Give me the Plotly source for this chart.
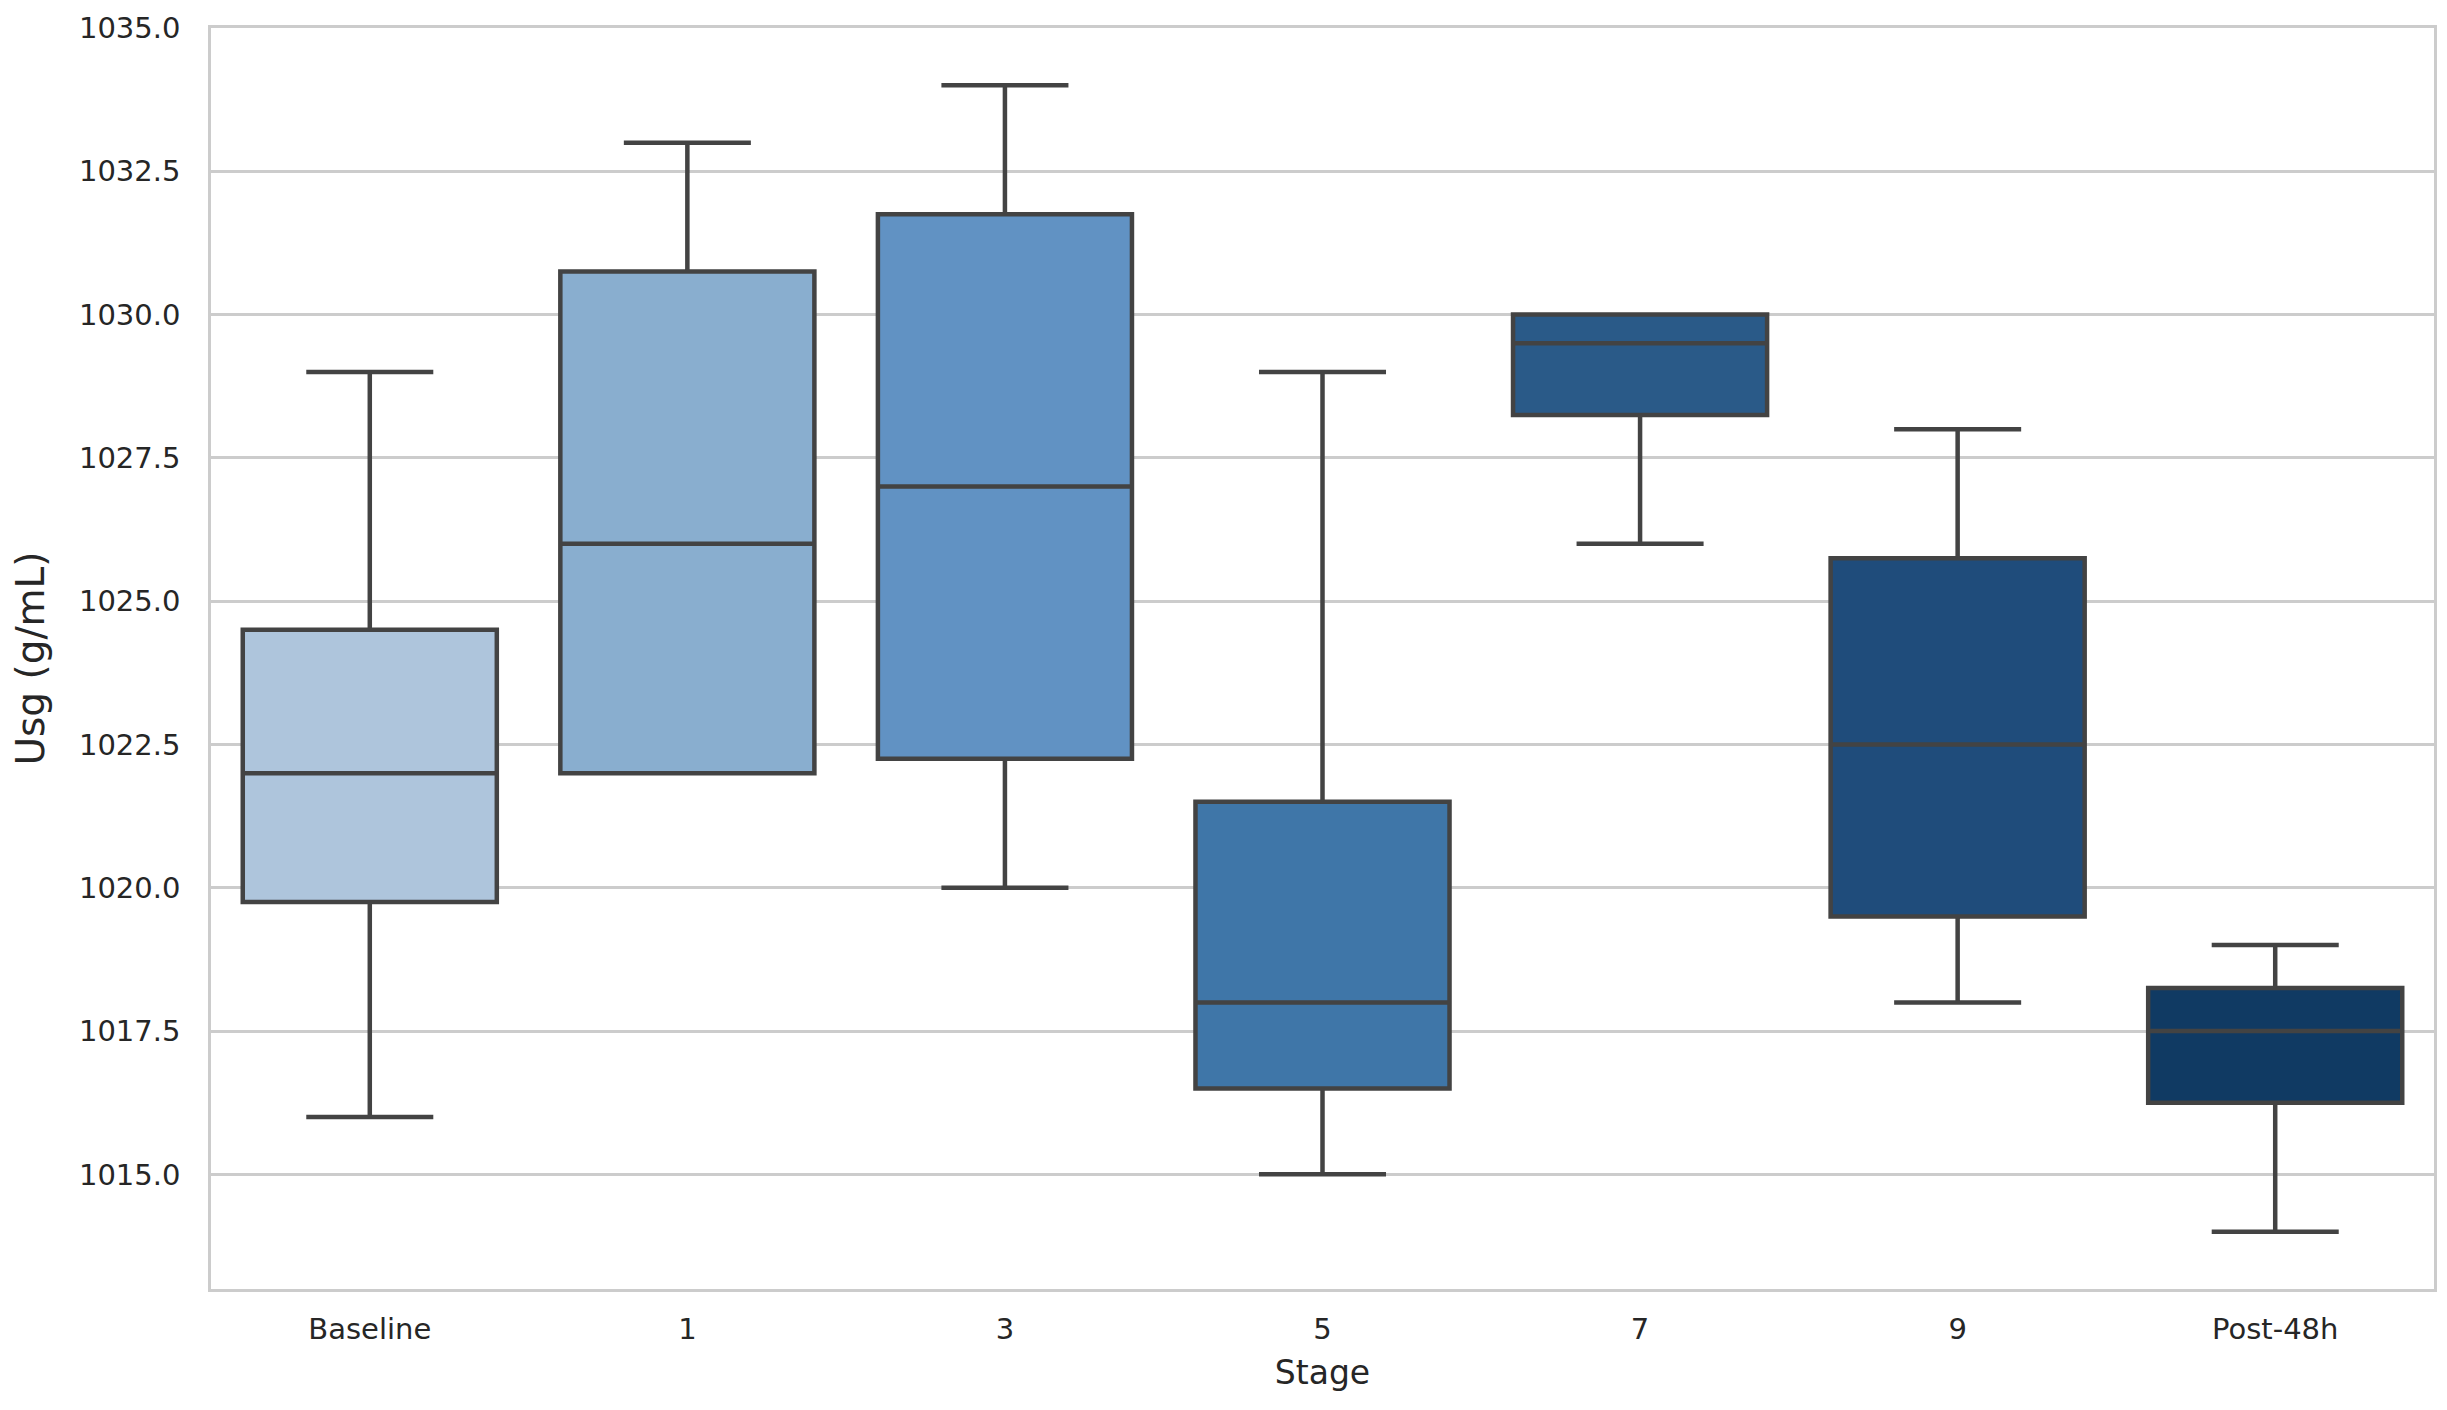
import plotly.graph_objects as go

stages = ["Baseline", "1", "3", "5", "7", "9", "Post-48h"]
lower_whisker = [1016, 1022, 1020, 1015, 1026, 1018, 1014]
q1_values = [1019.75, 1022, 1022.25, 1016.5, 1028.25, 1019.5, 1016.25]
median_values = [1022, 1026, 1027, 1018, 1029.5, 1022.5, 1017.5]
q3_values = [1024.5, 1030.75, 1031.75, 1021.5, 1030, 1025.75, 1018.25]
upper_whisker = [1029, 1033, 1034, 1029, 1030, 1028, 1019]
colors = ["#aec5dc", "#89aecf", "#6192c3", "#3f76a8", "#2a5a88", "#1f4c7b", "#103a63"]

fig = go.Figure()
for i, s in enumerate(stages):
    fig.add_trace(go.Box(
        x=[s],
        q1=[q1_values[i]],
        median=[median_values[i]],
        q3=[q3_values[i]],
        lowerfence=[lower_whisker[i]],
        upperfence=[upper_whisker[i]],
        fillcolor=colors[i],
        line=dict(color="#434343", width=4.5),
        width=0.8,
        whiskerwidth=0.5,
        boxpoints=False,
        showlegend=False,
        hoverinfo="skip",
    ))

fig.update_layout(
    width=2431,
    height=1394,
    margin=dict(l=203, r=5, t=20, b=113),
    paper_bgcolor="white",
    plot_bgcolor="white",
    boxmode="overlay",
    font=dict(family="DejaVu Sans", color="#262626", size=29),
)
fig.update_xaxes(
    type="category",
    categoryorder="array",
    categoryarray=stages,
    range=[-0.5, 6.5],
    showgrid=False,
    showline=True,
    linecolor="#cccccc",
    linewidth=2.5,
    mirror=True,
    ticks="outside",
    ticklen=12,
    tickcolor="rgba(0,0,0,0)",
    tickfont=dict(size=29),
    automargin=False,
    title=dict(text="Stage", font=dict(size=33), standoff=17),
)
fig.update_yaxes(
    range=[1013, 1035],
    tick0=1015,
    dtick=2.5,
    tickformat=".1f",
    showgrid=True,
    gridcolor="#cccccc",
    gridwidth=2.5,
    zeroline=False,
    showline=True,
    linecolor="#cccccc",
    linewidth=2.5,
    mirror=True,
    ticks="outside",
    ticklen=22,
    tickcolor="rgba(0,0,0,0)",
    tickfont=dict(size=29),
    automargin=False,
    title=dict(text="Usg (g/mL)", font=dict(size=39), standoff=28),
)

fig.write_html("out.html")
